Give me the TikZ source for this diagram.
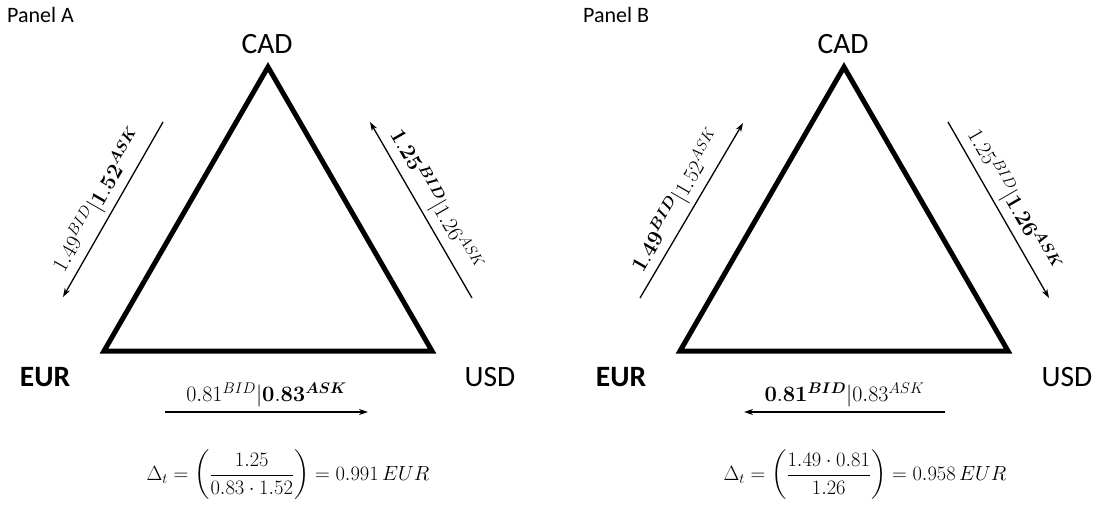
\RequirePackage{fix-cm}
\documentclass[tikz,border=0pt]{standalone}
\usepackage{amsmath,bm}
\usepackage[no-math]{fontspec}
\setmainfont{Carlito}
\usetikzlibrary{arrows.meta,calc}
\begin{document}
\begin{tikzpicture}[x=1pt,y=-1pt,
  tri/.style={line width=5pt, line join=miter},
  arr/.style={line width=1.3pt, -{Stealth[length=9pt,width=6pt]}},
  lbl/.style={font=\fontsize{22}{26}\selectfont, inner sep=2pt},
  frm/.style={font=\fontsize{20.5}{24}\selectfont, inner sep=0pt},
  cur/.style={font=\fontsize{29.5}{34}\selectfont, inner sep=0pt},
  curb/.style={font=\fontsize{29.5}{34}\selectfont\bfseries, inner sep=0pt},
  panel/.style={font=\fontsize{22}{26}\selectfont, inner sep=0pt, anchor=west}]
\useasboundingbox (0,0) rectangle (1101,511);
% ---------- Panel A ----------
\node[panel] (pA) at (7,15) {Panel A};
\coordinate (At) at (268,67);
\coordinate (Al) at (104,351);
\coordinate (Ar) at (432,351);
\draw[tri] (At) -- (Al) -- (Ar) -- cycle;
\node[cur] (cadA) at (267,44) {CAD};
\node[curb] (eurA) at (45,377) {EUR};
\node[cur] (usdA) at (490,377) {USD};
\coordinate (A1s) at (163,122); \coordinate (A1e) at (63,297);
\coordinate (A2s) at (472,298); \coordinate (A2e) at (370,122);
\coordinate (A3s) at (165,412); \coordinate (A3e) at (368,412);
\draw[arr] (A1s) -- (A1e);
\draw[arr] (A2s) -- (A2e);
\draw[arr] (A3s) -- (A3e);
\node[lbl,rotate=60,anchor=south] (lA1) at ($(A1s)!0.5!(A1e)+(-2,-2)$) {$1.49^{BID}|\mathbf{1.52}^{\bm{ASK}}$};
\node[lbl,rotate=-60,anchor=south] (lA2) at ($(A2s)!0.5!(A2e)+(2,-2)$) {$\mathbf{1.25}^{\bm{BID}}|1.26^{ASK}$};
\node[lbl,anchor=south] (lA3) at ($(A3s)!0.5!(A3e)+(0,-3)$) {$0.81^{BID}|\mathbf{0.83}^{\bm{ASK}}$};
\node[frm] (fA) at (288,475) {$\displaystyle\Delta_t=\left(\frac{1.25}{0.83\cdot 1.52}\right)=0.991\,EUR$};
% ---------- Panel B ----------
\node[panel] (pB) at (583,15) {Panel B};
\coordinate (Bt) at (844,67);
\coordinate (Bl) at (680,351);
\coordinate (Br) at (1008,351);
\draw[tri] (Bt) -- (Bl) -- (Br) -- cycle;
\node[cur] (cadB) at (843,44) {CAD};
\node[curb] (eurB) at (621,377) {EUR};
\node[cur] (usdB) at (1067,377) {USD};
\coordinate (B1s) at (640,298); \coordinate (B1e) at (743,123);
\coordinate (B2s) at (948,122); \coordinate (B2e) at (1049,298);
\coordinate (B3s) at (945,412); \coordinate (B3e) at (744,412);
\draw[arr] (B1s) -- (B1e);
\draw[arr] (B2s) -- (B2e);
\draw[arr] (B3s) -- (B3e);
\node[lbl,rotate=60,anchor=south] (lB1) at ($(B1s)!0.5!(B1e)+(-2,-2)$) {$\mathbf{1.49}^{\bm{BID}}|1.52^{ASK}$};
\node[lbl,rotate=-60,anchor=south] (lB2) at ($(B2s)!0.5!(B2e)+(2,-2)$) {$1.25^{BID}|\mathbf{1.26}^{\bm{ASK}}$};
\node[lbl,anchor=south] (lB3) at ($(B3s)!0.5!(B3e)+(0,-3)$) {$\mathbf{0.81}^{\bm{BID}}|0.83^{ASK}$};
\node[frm] (fB) at (865,475) {$\displaystyle\Delta_t=\left(\frac{1.49\cdot 0.81}{1.26}\right)=0.958\,EUR$};
\end{tikzpicture}
\end{document}
